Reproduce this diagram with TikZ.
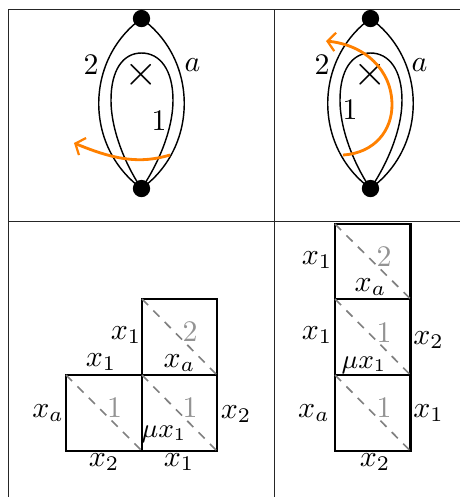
\documentclass[tikz,border=0pt]{standalone}
\usetikzlibrary{arrows.meta}
\definecolor{myorange}{RGB}{255,128,0}
\tikzset{
  frameline/.style={line width=0.34pt,black!85},
  curve/.style={line width=0.48pt,black},
  dotnode/.style={circle,fill=black,inner sep=0pt,minimum size=5.8pt},
  orangearrow/.style={line width=0.95pt,draw=myorange,-{Straight Barb[length=2.6pt,width=6.2pt,line width=0.75pt]}},
  cell/.style={line width=0.68pt,black},
  diag/.style={line width=0.55pt,gray,dash pattern=on 2.9pt off 2.5pt},
  lab/.style={inner sep=0pt,black},
  glab/.style={inner sep=0pt,gray!85},
}
\begin{document}
\begin{tikzpicture}[x=0.335pt,y=-0.335pt]
\useasboundingbox (0,0) rectangle (460,497);
% frame
\coordinate (fa) at (8.5,9); \coordinate (fb) at (460,9);
\coordinate (fc) at (8.5,497); \coordinate (fd) at (8.5,221.5); \coordinate (fe) at (460,221.5);
\coordinate (ff) at (274.5,9); \coordinate (fg) at (274.5,497);
\draw[frameline] (fb) -- (fa) -- (fc);
\draw[frameline] (fd) -- (fe);
\draw[frameline] (ff) -- (fg);
% top left
\node[dotnode] (lt) at (141.5,18.5) {};
\node[dotnode] (lb) at (141.5,188.5) {};
\draw[curve] (lt.center) .. controls (198.5,60) and (198.5,147) .. (lb.center);
\draw[curve] (lt.center) .. controls (84.5,60) and (84.5,147) .. (lb.center);
\draw[curve] (lb.center) .. controls (153,172) and (173,135) .. (173,100) .. controls (173,70) and (160,53) .. (141.5,53) .. controls (123,53) and (111,70) .. (111,100) .. controls (111,135) and (130,172) .. (lb.center);
\node[lab] (l2) at (91,64.5) {$2$};
\node[lab] (la) at (192.5,65) {$a$};
\node[lab] (l1) at (159,121) {$1$};
\node[lab] (lx) at (141.5,75) {\Large$\times$};
\coordinate (los) at (170,155);
\coordinate (loe) at (74,143);
\draw[orangearrow] (los) .. controls (140,164) and (115,160) .. (loe);
% top right
\node[dotnode] (rt) at (370.5,18.5) {};
\node[dotnode] (rb) at (370.5,188.5) {};
\draw[curve] (rt.center) .. controls (427.5,60) and (427.5,147) .. (rb.center);
\draw[curve] (rt.center) .. controls (313.5,60) and (313.5,147) .. (rb.center);
\draw[curve] (rb.center) .. controls (382,172) and (402,135) .. (402,100) .. controls (402,70) and (389,53) .. (370.5,53) .. controls (352,53) and (340,70) .. (340,100) .. controls (340,135) and (359,172) .. (rb.center);
\node[lab] (r2) at (322,65) {$2$};
\node[lab] (ra) at (419.5,65) {$a$};
\node[lab] (r1) at (350,110) {$1$};
\node[lab] (rx) at (370.5,75) {\Large$\times$};
\coordinate (ros) at (343,155);
\coordinate (roe) at (326,41);
\draw[orangearrow] (ros) .. controls (375,153) and (392,130) .. (392,105) .. controls (392,70) and (365,45) .. (roe);
% bottom left squares
\draw[cell] (66,375) rectangle (142,451);
\draw[cell] (142,375) rectangle (217,451);
\draw[cell] (142,299) rectangle (217,375);
\draw[diag] (66,375) -- (142,451);
\draw[diag] (142,375) -- (217,451);
\draw[diag] (142,299) -- (217,375);
\node[glab] at (190,332) {$2$};
\node[glab] at (114.5,408) {$1$};
\node[glab] at (190,408) {$1$};
\node[lab] at (126,335) {$x_1$};
\node[lab] at (101,362) {$x_1$};
\node[lab] at (179.5,363) {$x_a$};
\node[lab] at (48,413) {$x_a$};
\node[lab] at (236,414) {$x_2$};
\node[lab,font=\small] at (164,434) {$\mu x_1$};
\node[lab] at (104,462) {$x_2$};
\node[lab] at (179,462) {$x_1$};
% bottom right squares
\draw[cell] (335,224) rectangle (410.5,299);
\draw[cell] (335,299) rectangle (410.5,375);
\draw[cell] (335,375) rectangle (410.5,451);
\draw[diag] (335,224) -- (410.5,299);
\draw[diag] (335,299) -- (410.5,375);
\draw[diag] (335,375) -- (410.5,451);
\node[glab] at (384,257) {$2$};
\node[glab] at (384,333) {$1$};
\node[glab] at (384,408) {$1$};
\node[lab] at (317,260) {$x_1$};
\node[lab] at (317,335) {$x_1$};
\node[lab] at (314,413) {$x_a$};
\node[lab] at (370.5,287) {$x_a$};
\node[lab,font=\small] at (364,365) {$\mu x_1$};
\node[lab] at (428.5,340) {$x_2$};
\node[lab] at (428.5,413) {$x_1$};
\node[lab] at (375,462) {$x_2$};
\end{tikzpicture}
\end{document}
